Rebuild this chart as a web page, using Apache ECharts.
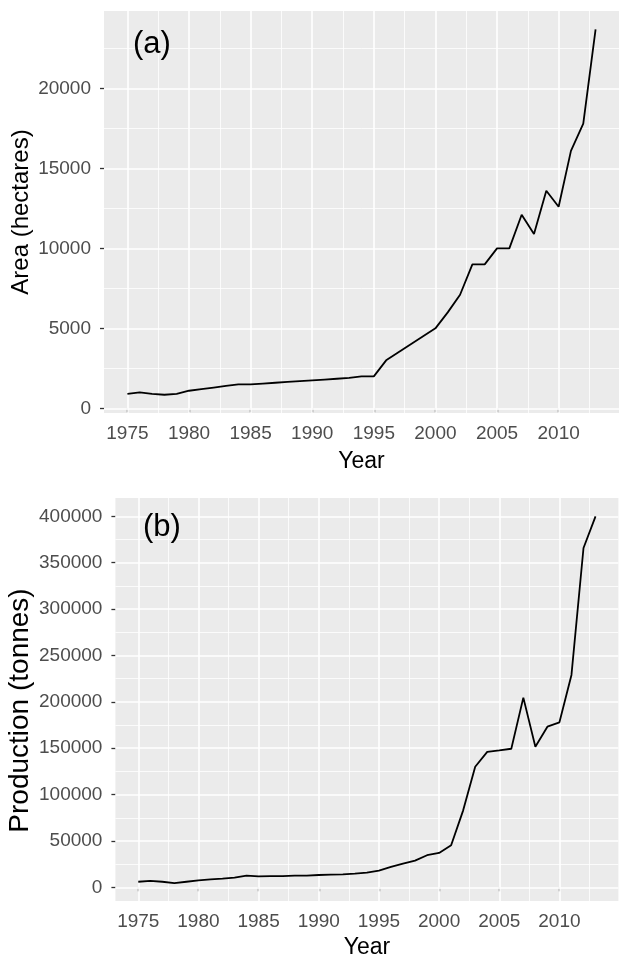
<!DOCTYPE html>
<html lang="en">

<head>
    <meta charset="UTF-8">
    <title>Area and production</title>
    <script src="https://cdn.jsdelivr.net/npm/echarts@6/dist/echarts.min.js"></script>
    <style>
        body {
            margin: 0;
            padding: 0;
            overflow: hidden;
            background: #fff;
        }
    </style>
</head>

<body>
    <div id="main" style="width: 622px;height:957px;"></div>
</body>
<script>
    var years = [1975, 1976, 1977, 1978, 1979, 1980, 1981, 1982, 1983, 1984,
        1985, 1986, 1987, 1988, 1989, 1990, 1991, 1992, 1993, 1994,
        1995, 1996, 1997, 1998, 1999, 2000, 2001, 2002, 2003, 2004,
        2005, 2006, 2007, 2008, 2009, 2010, 2011, 2012, 2013];

    // (a) area in hectares
    var area = [900, 1000, 900, 850, 900, 1100, 1200, 1300, 1400, 1500,
        1500, 1550, 1600, 1650, 1700, 1750, 1800, 1850, 1900, 2000,
        2000, 3000, 3500, 4000, 4500, 5000, 6000, 7100, 9000, 9000,
        10000, 10000, 12100, 10900, 13600, 12600, 16100, 17800, 23700];

    // (b) production in tonnes
    var production = [6000, 7000, 6000, 4500, 6000, 7500, 8600, 9400, 10400, 12600,
        11900, 12000, 12000, 12600, 12600, 13300, 13700, 14000, 14800, 15800,
        18000, 22000, 25600, 28800, 34600, 37100, 45400, 83000, 130000, 146000,
        147600, 149400, 204500, 151600, 173200, 177900, 229000, 365800, 400000];

    var yearTicks = [1975, 1980, 1985, 1990, 1995, 2000, 2005, 2010];
    var yearMinor = [1977.5, 1982.5, 1987.5, 1992.5, 1997.5, 2002.5, 2007.5, 2012.5];
    var areaTicks = [0, 5000, 10000, 15000, 20000];
    var areaMinor = [2500, 7500, 12500, 17500, 22500];
    var prodTicks = [0, 50000, 100000, 150000, 200000, 250000, 300000, 350000, 400000];
    var prodMinor = [25000, 75000, 125000, 175000, 225000, 275000, 325000, 375000];

    var font = 'Liberation Sans, Arial, sans-serif';
    var tickGrey = '#4D4D4D';

    function pairs(xs, ys) {
        var out = [];
        for (var i = 0; i < xs.length; i++) out.push([xs[i], ys[i]]);
        return out;
    }

    // plain numbers, no thousands separator (like ggplot)
    function plain(v) {
        return String(v);
    }

    // white ggplot style grid lines, drawn as mark lines under the data
    function gridLines(xMajor, xMinor, yMajor, yMinor) {
        var data = [];
        xMinor.forEach(function(v) {
            data.push({ xAxis: v, lineStyle: { width: 0.8 } });
        });
        yMinor.forEach(function(v) {
            data.push({ yAxis: v, lineStyle: { width: 0.8 } });
        });
        xMajor.forEach(function(v) {
            data.push({ xAxis: v, lineStyle: { width: 1.6 } });
        });
        yMajor.forEach(function(v) {
            data.push({ yAxis: v, lineStyle: { width: 1.6 } });
        });
        return {
            silent: true,
            symbol: 'none',
            animation: false,
            z: 1,
            label: { show: false },
            lineStyle: { color: '#ffffff', type: 'solid' },
            emphasis: { disabled: true },
            data: data
        };
    }

    function xAxisFor(idx, gap) {
        return {
            type: 'value',
            gridIndex: idx,
            min: 1973.1,
            max: 2014.9,
            name: 'Year',
            nameLocation: 'middle',
            nameGap: gap,
            nameTextStyle: { color: '#000', fontSize: 23, fontFamily: font },
            axisLine: { show: false },
            axisTick: {
                show: true,
                customValues: yearTicks,
                length: 4,
                lineStyle: { color: '#333333', width: 1.3 }
            },
            axisLabel: {
                customValues: yearTicks,
                formatter: plain,
                color: tickGrey,
                fontSize: 19,
                fontFamily: font,
                margin: 11
            },
            splitLine: { show: false }
        };
    }

    function yAxisFor(idx, name, min, max, ticks, gap, nameSize, namePad) {
        return {
            type: 'value',
            gridIndex: idx,
            min: min,
            max: max,
            name: name,
            nameLocation: 'middle',
            nameGap: gap,
            nameMoveOverlap: false,
            nameTextStyle: { color: '#000', fontSize: nameSize, fontFamily: font, padding: namePad },
            axisLine: { show: false },
            axisTick: {
                show: true,
                customValues: ticks,
                length: 4,
                lineStyle: { color: '#333333', width: 1.3 }
            },
            axisLabel: {
                customValues: ticks,
                formatter: plain,
                color: tickGrey,
                fontSize: 19,
                fontFamily: font,
                margin: 13
            },
            splitLine: { show: false }
        };
    }

    var chart = echarts.init(document.getElementById('main'));

    var option = {
        animation: false,
        backgroundColor: '#ffffff',
        grid: [{
            left: 104,
            top: 11,
            width: 515,
            height: 402,
            outerBoundsMode: 'none',
            containLabel: false,
            show: true,
            backgroundColor: '#EBEBEB',
            borderWidth: 0
        }, {
            left: 115.4,
            top: 498,
            width: 503,
            height: 403,
            outerBoundsMode: 'none',
            containLabel: false,
            show: true,
            backgroundColor: '#EBEBEB',
            borderWidth: 0
        }],
        xAxis: [xAxisFor(0, 37), xAxisFor(1, 35)],
        yAxis: [
            yAxisFor(0, 'Area (hectares)', -292, 24842, areaTicks, 71, 24, 0),
            yAxisFor(1, 'Production (tonnes)', -14750, 419750, prodTicks, 81, 28, [0, 22, 0, 0])
        ],
        graphic: [{
            type: 'text',
            left: 133,
            top: 29,
            z: 50,
            style: { text: '(a)', fontSize: 31, fontFamily: font, fill: '#000' }
        }, {
            type: 'text',
            left: 143,
            top: 512,
            z: 50,
            style: { text: '(b)', fontSize: 31, fontFamily: font, fill: '#000' }
        }],
        series: [{
            type: 'line',
            xAxisIndex: 0,
            yAxisIndex: 0,
            data: [],
            z: 1,
            markLine: gridLines(yearTicks, yearMinor, areaTicks, areaMinor)
        }, {
            type: 'line',
            xAxisIndex: 1,
            yAxisIndex: 1,
            data: [],
            z: 1,
            markLine: gridLines(yearTicks, yearMinor, prodTicks, prodMinor)
        }, {
            name: 'Area',
            type: 'line',
            xAxisIndex: 0,
            yAxisIndex: 0,
            data: pairs(years, area),
            showSymbol: false,
            z: 10,
            lineStyle: { color: '#000', width: 1.8 }
        }, {
            name: 'Production',
            type: 'line',
            xAxisIndex: 1,
            yAxisIndex: 1,
            data: pairs(years, production),
            showSymbol: false,
            z: 10,
            lineStyle: { color: '#000', width: 1.8 }
        }]
    };
    chart.setOption(option);
</script>

</html>
